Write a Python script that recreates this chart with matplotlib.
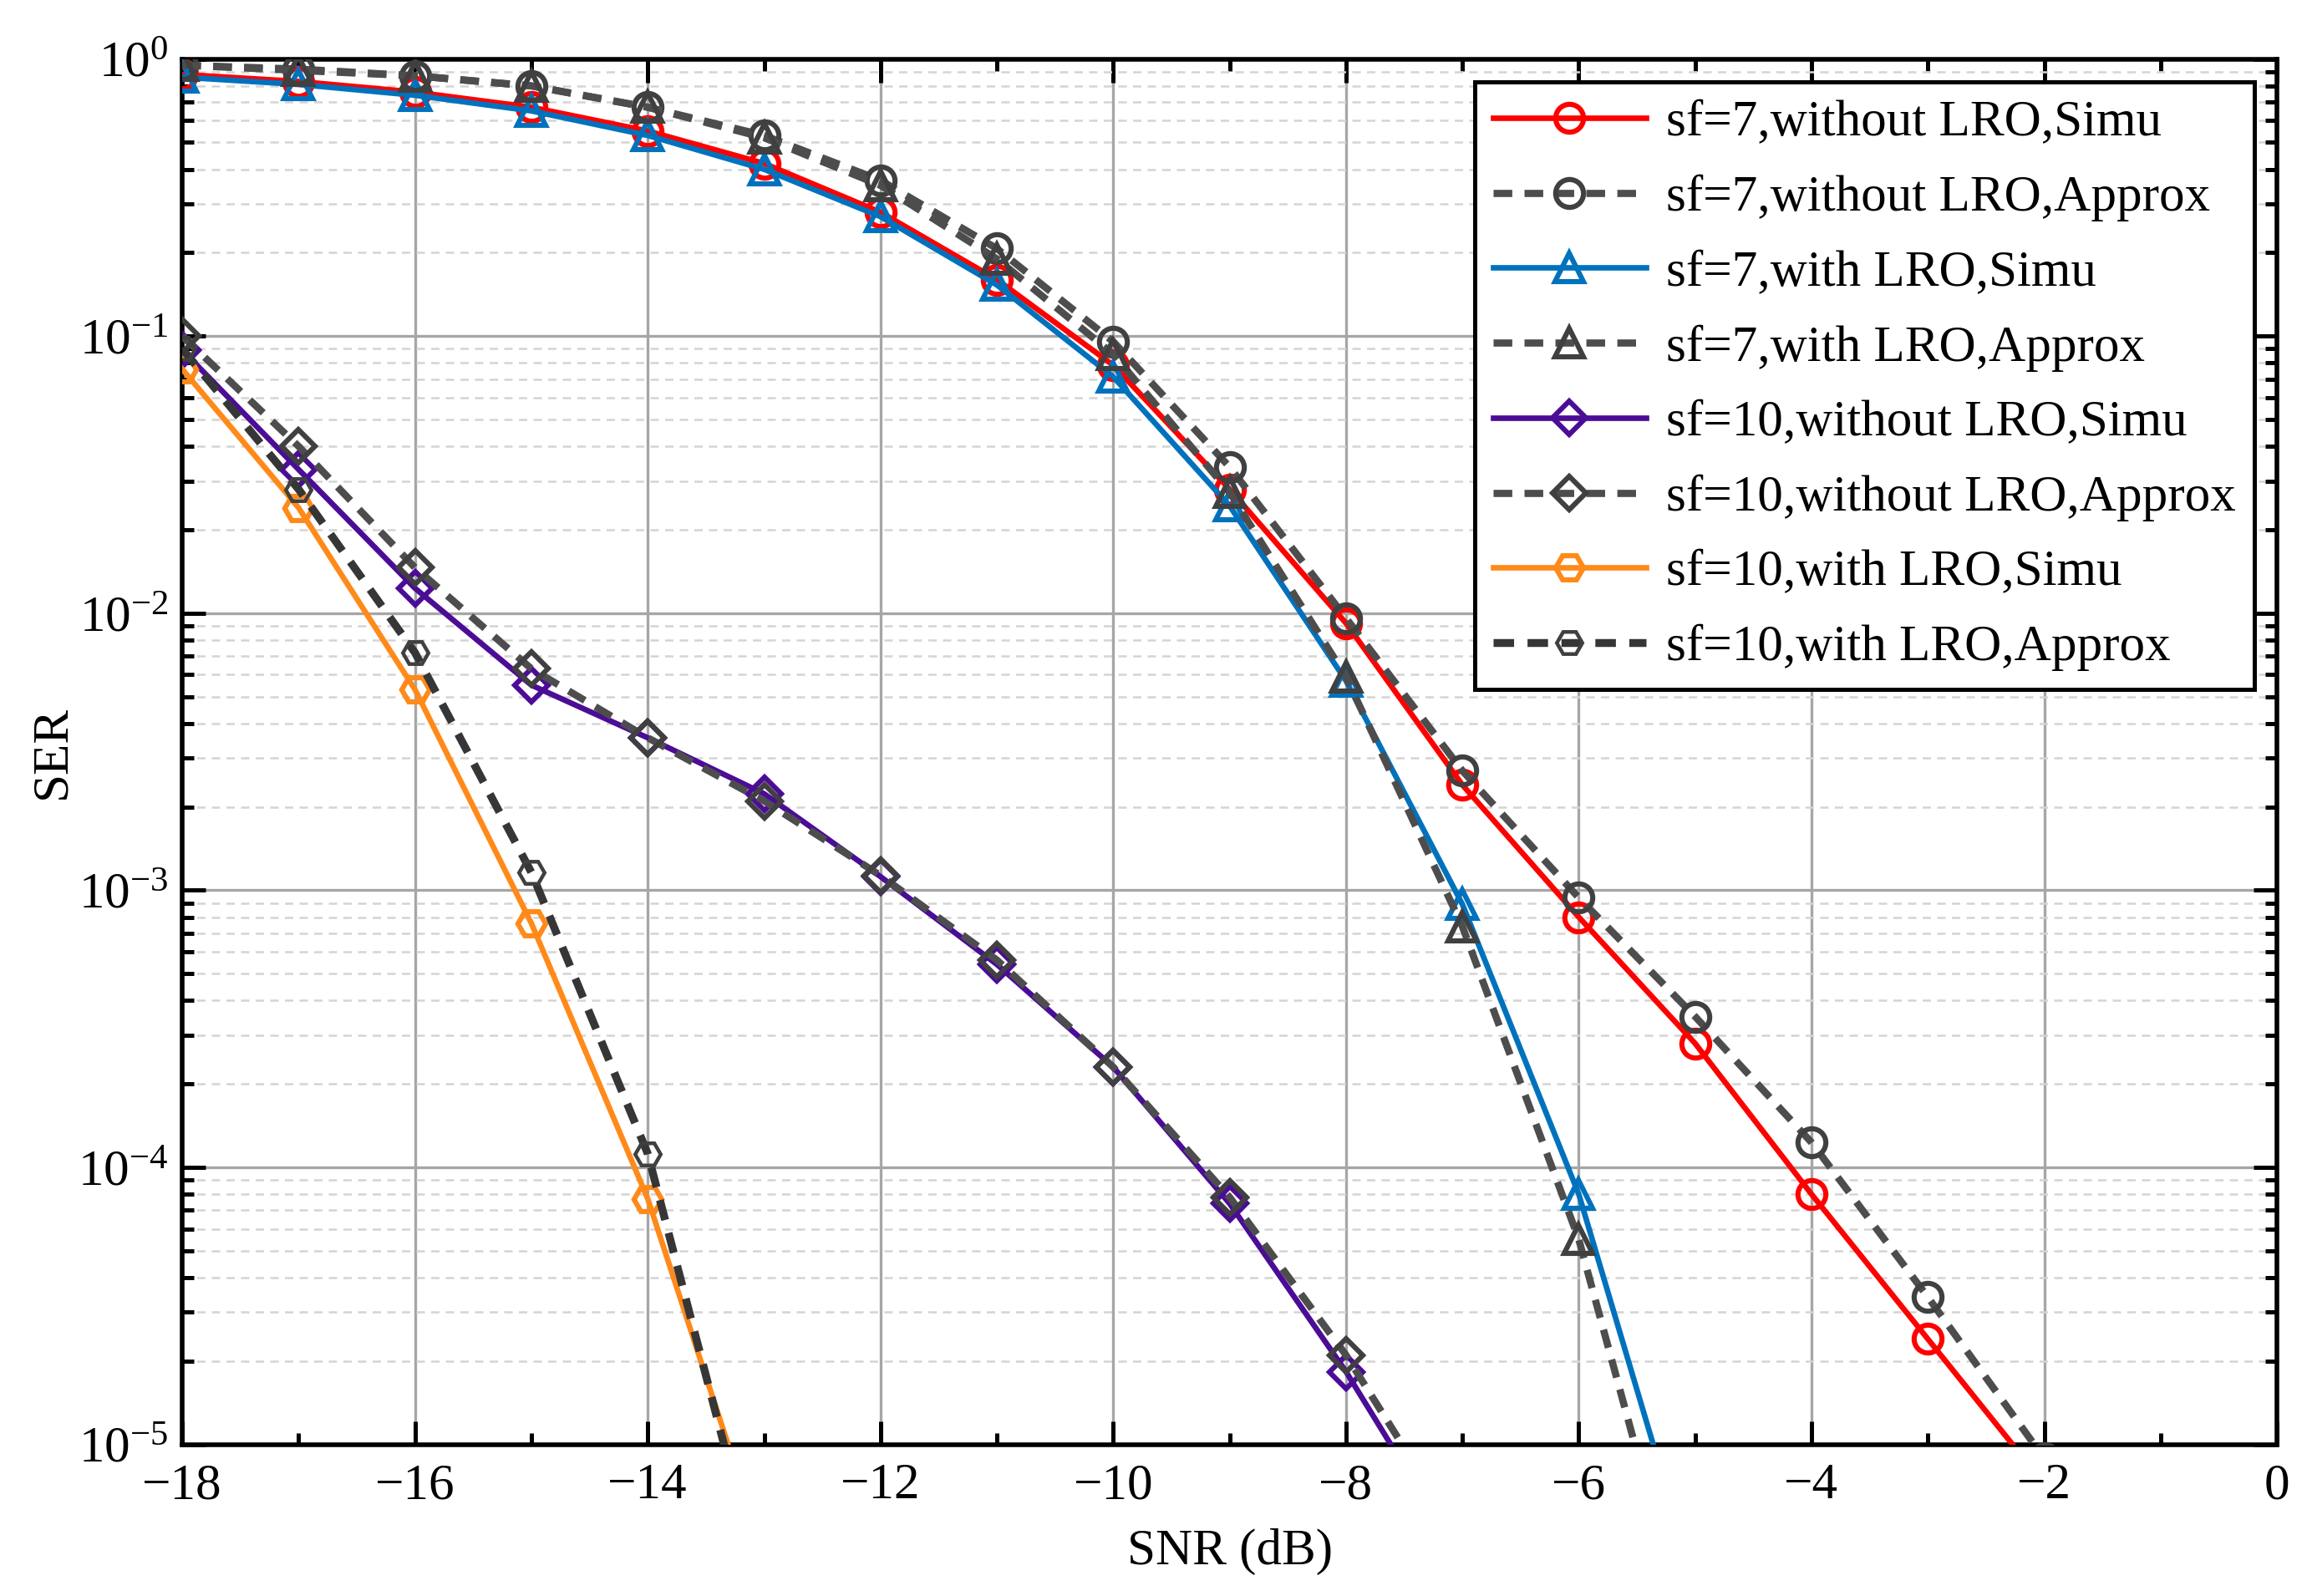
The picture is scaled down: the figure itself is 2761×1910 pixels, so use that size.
import numpy as np
import matplotlib
matplotlib.use('Agg')
import matplotlib.pyplot as plt
from matplotlib.ticker import LogLocator, MultipleLocator, NullFormatter

plt.rcParams['font.family'] = ['Liberation Serif', 'DejaVu Serif']
plt.rcParams['mathtext.fontset'] = 'stix'

# SNR points (dB)
snr_sf7 = [-18, -17, -16, -15, -14, -13, -12, -11, -10, -9, -8, -7, -6, -5, -4, -3, -2]
snr_sf7_lro = [-18, -17, -16, -15, -14, -13, -12, -11, -10, -9, -8, -7, -6, -5]
snr_sf10 = [-18, -17, -16, -15, -14, -13, -12, -11, -10, -9, -8, -7]
snr_sf10_lro = [-18, -17, -16, -15, -14, -13]

# SER values
ser_sf7_simu = [0.88, 0.83, 0.76, 0.67, 0.55, 0.42, 0.28, 0.16, 0.0785, 0.028, 0.0092,
                0.0024, 8.0e-4, 2.8e-4, 8.0e-5, 2.4e-5, 7.2e-6]
ser_sf7_appr = [0.95, 0.92, 0.87, 0.80, 0.67, 0.53, 0.365, 0.207, 0.0955, 0.0337, 0.0096,
                0.0027, 9.4e-4, 3.5e-4, 1.23e-4, 3.4e-5, 8.9e-6]
ser_sf7_lro_simu = [0.86, 0.81, 0.74, 0.65, 0.53, 0.40, 0.27, 0.153, 0.0713, 0.0244, 0.0057,
                    8.9e-4, 8.0e-5, 3.1e-6]
ser_sf7_lro_appr = [0.95, 0.91, 0.87, 0.80, 0.67, 0.52, 0.35, 0.19, 0.086, 0.0273, 0.0059,
                    7.4e-4, 5.5e-5, 1.6e-6]
ser_sf10_simu = [0.089, 0.033, 0.0123, 0.0055, 0.00355, 0.00223, 1.12e-3, 5.4e-4, 2.3e-4,
                 7.4e-5, 1.83e-5, 3.8e-6]
ser_sf10_appr = [0.10, 0.040, 0.0146, 0.0063, 0.00355, 0.0021, 1.13e-3, 5.6e-4, 2.3e-4,
                 7.8e-5, 2.1e-5, 4.5e-6]
ser_sf10_lro_simu = [0.076, 0.024, 0.0053, 7.6e-4, 7.7e-5, 4.0e-6]
ser_sf10_lro_appr = [0.09, 0.028, 0.0072, 1.16e-3, 1.12e-4, 2.8e-6]

fig = plt.figure(figsize=(13.805, 9.55), dpi=200)
ax = fig.add_axes([0.079, 0.095, 0.908, 0.868])

lw_s = 2.4
lw_a = 3.1
ms = 12
mew = 2.2
dash = (2.6, 1.7)

ax.plot(snr_sf7, ser_sf7_simu, '-', color='#ff0000', lw=lw_s, marker='o', ms=ms,
        mfc='none', mew=mew, label='sf=7,without LRO,Simu', zorder=3)
ax.plot(snr_sf7, ser_sf7_appr, '--', color='#4d4d4d', lw=lw_a, marker='o', ms=ms,
        mfc='none', mec='#404040', mew=mew, dashes=dash, label='sf=7,without LRO,Approx', zorder=4)
ax.plot(snr_sf7_lro, ser_sf7_lro_simu, '-', color='#0072bd', lw=lw_s, marker='^', ms=ms,
        mfc='none', mew=mew, label='sf=7,with LRO,Simu', zorder=3)
ax.plot(snr_sf7_lro, ser_sf7_lro_appr, '--', color='#4d4d4d', lw=lw_a, marker='^', ms=ms,
        mfc='none', mec='#404040', mew=mew, dashes=dash, label='sf=7,with LRO,Approx', zorder=4)
ax.plot(snr_sf10, ser_sf10_simu, '-', color='#4b0c96', lw=lw_s, marker='D', ms=ms - 2,
        mfc='none', mew=mew, label='sf=10,without LRO,Simu', zorder=3)
ax.plot(snr_sf10, ser_sf10_appr, '--', color='#4d4d4d', lw=lw_a, marker='D', ms=ms - 2,
        mfc='none', mec='#404040', mew=mew, dashes=dash, label='sf=10,without LRO,Approx', zorder=4)
ax.plot(snr_sf10_lro, ser_sf10_lro_simu, '-', color='#ff8a1a', lw=lw_s, marker='H', ms=ms,
        mfc='none', mew=mew, label='sf=10,with LRO,Simu', zorder=3)
ax.plot(snr_sf10_lro, ser_sf10_lro_appr, '--', color='#363636', lw=lw_a + 0.3, marker='H', ms=ms - 1,
        mfc='none', mec='#404040', mew=1.6, dashes=dash, label='sf=10,with LRO,Approx', zorder=4)

ax.set_yscale('log')
ax.set_xlim(-18, 0)
ax.set_ylim(1e-5, 1)
ax.xaxis.set_major_locator(MultipleLocator(2))
ax.xaxis.set_minor_locator(MultipleLocator(1))
ax.yaxis.set_major_locator(LogLocator(base=10, numticks=10))
ax.yaxis.set_minor_locator(LogLocator(base=10, subs=np.arange(2, 10), numticks=20))
ax.yaxis.set_minor_formatter(NullFormatter())

ax.grid(True, which='major', color='#a6a6a6', lw=1.2, ls='-')
ax.grid(True, which='minor', axis='y', color='#d4d4d4', lw=0.9, ls=(0, (4, 3)))
ax.set_axisbelow(True)

ax.tick_params(which='both', direction='in', top=True, right=True, labelsize=22, width=1.8)
ax.tick_params(which='major', length=10)
ax.tick_params(which='minor', length=5)
ax.tick_params(axis='x', pad=8)
ax.tick_params(axis='y', pad=6)
for s in ax.spines.values():
    s.set_linewidth(2.0)

ax.set_xlabel('SNR (dB)', fontsize=22, labelpad=8)
ax.set_ylabel('SER', fontsize=22, labelpad=1)

leg = ax.legend(loc='upper right', fontsize=22, handlelength=3.0, fancybox=False,
                framealpha=1, edgecolor='black', borderpad=0.35, labelspacing=0.55,
                handletextpad=0.4, borderaxespad=0.45)
leg.get_frame().set_linewidth(1.8)

fig.savefig('out.png', dpi=200)
